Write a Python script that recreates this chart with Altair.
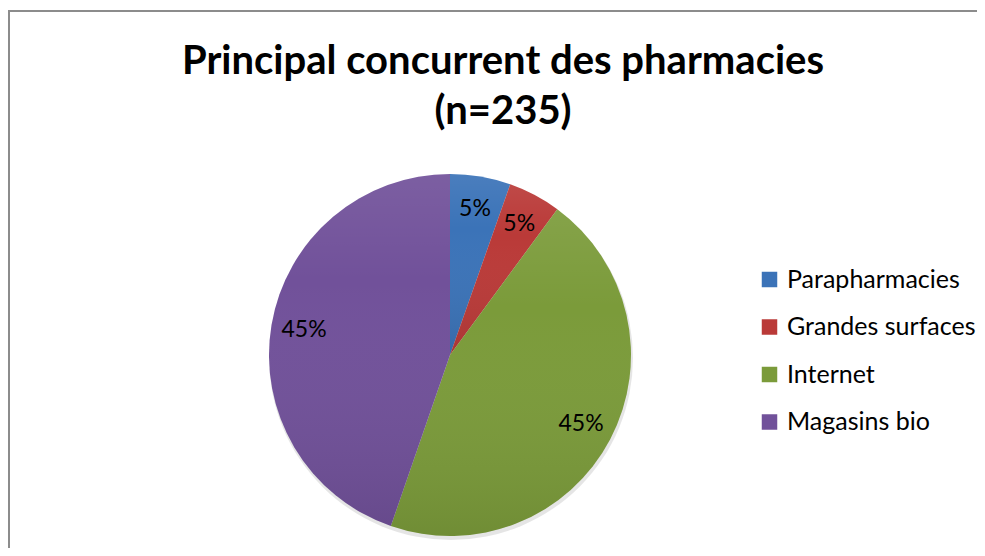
import altair as alt
import pandas as pd

categories = ["Parapharmacies", "Grandes surfaces", "Internet", "Magasins bio"]
shares = [5.4, 4.7, 45.2, 44.7]
order_idx = [0, 1, 2, 3]
colors = ["#3B73B8", "#BA3A38", "#7B9B3A", "#71519A"]
title_lines = ["Principal concurrent des pharmacies", "(n=235)"]

df = pd.DataFrame({"cat": categories, "share": shares, "idx": order_idx})

W, H = 884, 386
R = 181

base = alt.Chart(df).transform_calculate(
    label="format(datum.share / 100, '.0%')"
)

theta = alt.Theta("share:Q", stack=True)
order = alt.Order("idx:O", sort="ascending")

one = alt.Data(values=[{"k": 1}])

shadow = alt.Chart(one).mark_arc(radius=R + 1, fill="#000000", opacity=0.10, yOffset=3, xOffset=1).encode(
    theta=alt.value(0), theta2=alt.value(6.2832)
)

pie = base.mark_arc(radius=R).encode(
    theta=theta,
    order=order,
    color=alt.Color(
        "cat:N",
        scale=alt.Scale(domain=categories, range=colors),
        legend=alt.Legend(
            orient="none",
            legendX=749,
            legendY=105,
            title=None,
            symbolType="square",
            symbolSize=240,
            symbolStrokeWidth=0,
            labelFont="Lato",
            labelFontSize=25,
            labelColor="#000000",
            labelOffset=5,
            labelLimit=400,
            rowPadding=21.5,
            padding=0,
        ),
    ),
)

gradient = {
    "gradient": "linear",
    "x1": 0, "y1": 0, "x2": 0, "y2": 1,
    "stops": [
        {"offset": 0, "color": "rgba(255,255,255,0.08)"},
        {"offset": 0.3, "color": "rgba(255,255,255,0)"},
        {"offset": 1, "color": "rgba(0,0,0,0.09)"},
    ],
}

shade = base.mark_arc(radius=R, fill=gradient).encode(theta=theta, order=order)

labels = base.mark_text(radius=148, font="Lato", fontSize=23, color="#000000").encode(
    theta=theta, order=order, text="label:N"
)

border_top = alt.Chart(one).mark_rule(color="#8C8C8C", strokeWidth=2).encode(
    x=alt.value(0), x2=alt.value(969), y=alt.value(-151)
)
border_left = alt.Chart(one).mark_rule(color="#8C8C8C", strokeWidth=2).encode(
    x=alt.value(1), y=alt.value(-152), y2=alt.value(H)
)

chart = alt.layer(shadow, pie, shade, labels, border_top, border_left).properties(
    width=W,
    height=H,
    autosize=alt.AutoSizeParams(type="none"),
    padding={"left": 0, "top": 154, "right": 85, "bottom": 0},
    background="#FFFFFF",
    title=alt.TitleParams(
        text=title_lines,
        font="Lato",
        fontSize=40,
        fontWeight="bold",
        color="#000000",
        lineHeight=50,
        anchor="middle",
        frame="group",
        dx=53,
        offset=-123,
    ),
).configure_view(stroke="transparent")

chart.save("out.html", embed_options={"renderer": "svg", "actions": False})
